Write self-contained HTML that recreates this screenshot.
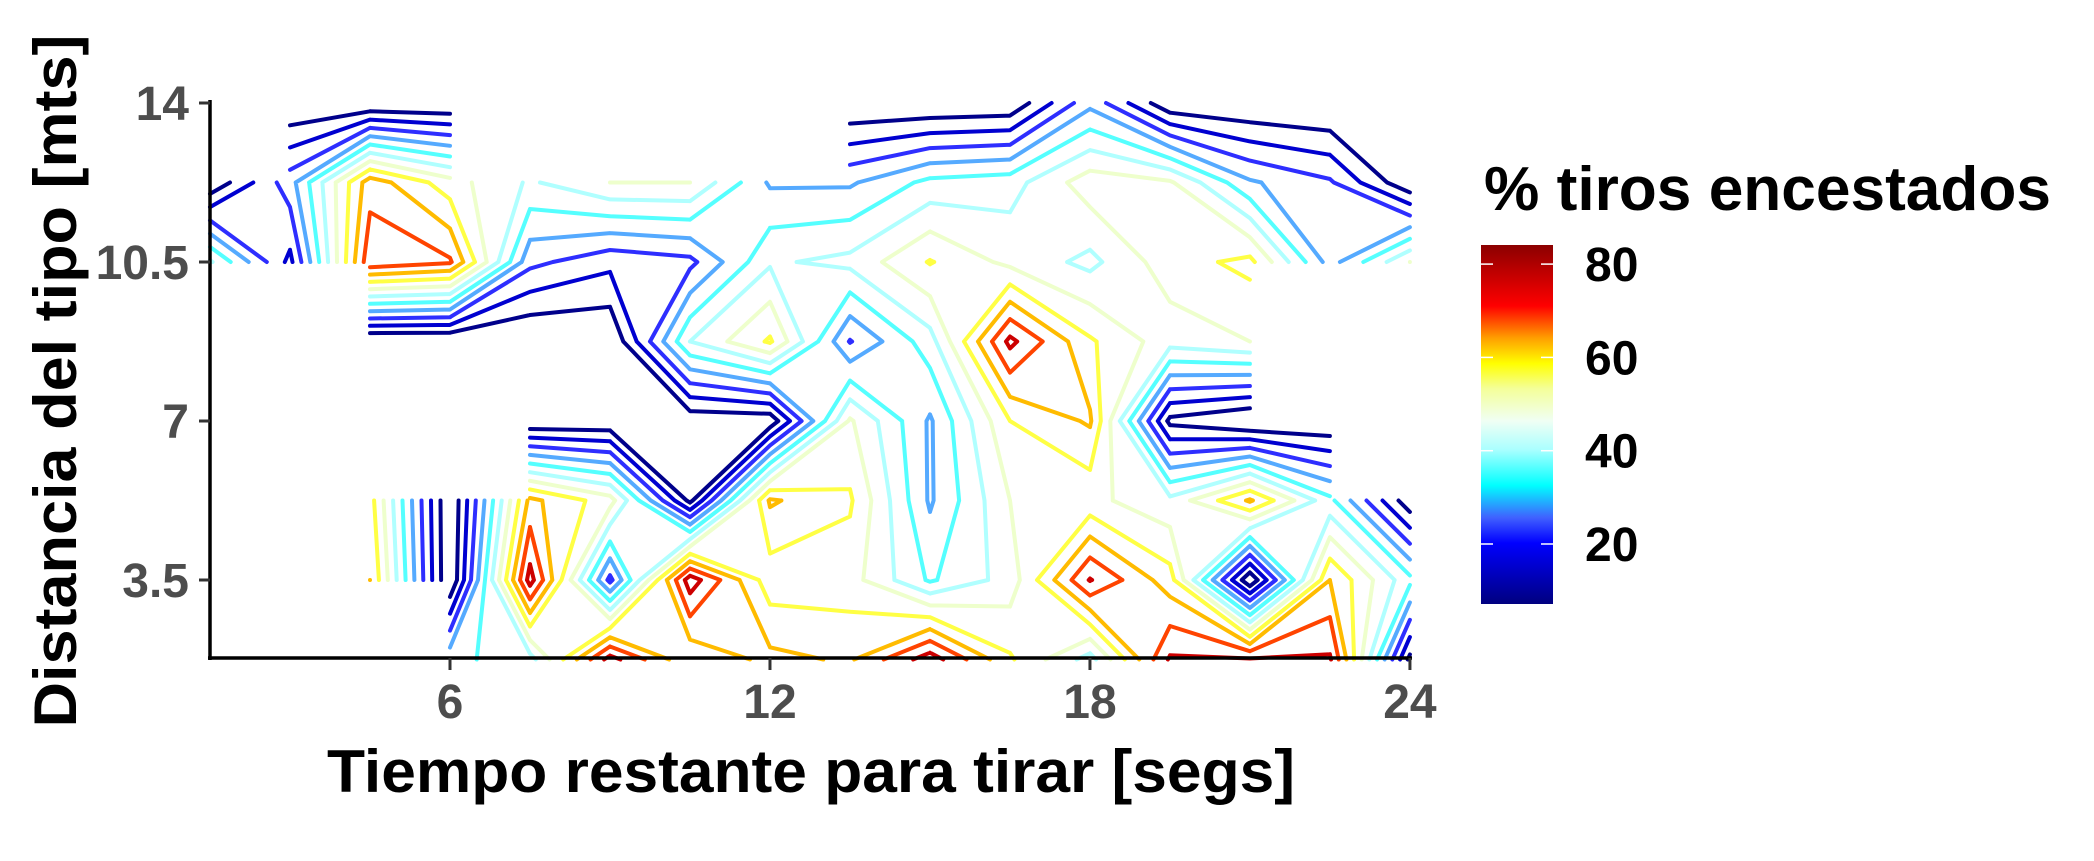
<!DOCTYPE html>
<html><head><meta charset="utf-8"><style>
html,body{margin:0;padding:0;background:#fff;}
svg{display:block;font-family:"Liberation Sans",Arial,sans-serif;font-weight:bold;}
</style></head><body>
<svg id="chart" width="2094" height="861" viewBox="0 0 2094 861" xmlns="http://www.w3.org/2000/svg">
<defs>
<linearGradient id="cbar" x1="0" y1="1" x2="0" y2="0">
<stop offset="0" stop-color="#00007F"/>
<stop offset="0.17" stop-color="#0000FF"/>
<stop offset="0.24" stop-color="#4060FF"/>
<stop offset="0.33" stop-color="#00FFFF"/>
<stop offset="0.43" stop-color="#AAFFFF"/>
<stop offset="0.51" stop-color="#F0FFF4"/>
<stop offset="0.6" stop-color="#F4FF99"/>
<stop offset="0.67" stop-color="#FFFF00"/>
<stop offset="0.74" stop-color="#FFA000"/>
<stop offset="0.83" stop-color="#FF0000"/>
<stop offset="1" stop-color="#8B0000"/>
</linearGradient>
</defs>
<g id="contours"></g>
<g>
<line x1="210" y1="100" x2="210" y2="660" stroke="#000" stroke-width="3.5"/>
</g>
<g>
<line x1="208" y1="658" x2="1412" y2="658" stroke="#000" stroke-width="3.5"/>
</g>
<g id="xticks"></g>
<g id="yticks"></g>
<text x="811" y="792" font-size="60" text-anchor="middle" textLength="968" lengthAdjust="spacingAndGlyphs" fill="#000">Tiempo restante para tirar [segs]</text>
<text x="0" y="0" font-size="60" text-anchor="middle" textLength="693" lengthAdjust="spacingAndGlyphs" fill="#000" transform="translate(76,381) rotate(-90)">Distancia del tipo [mts]</text>
<text x="1484" y="210" font-size="62" textLength="567" lengthAdjust="spacingAndGlyphs" fill="#000">% tiros encestados</text>
<rect x="1481" y="245" width="72" height="359" fill="url(#cbar)"/>
<g id="cbticks"></g>
</svg>
<script>
const xs=[1.5,3,4.5,6,7.5,9,10.5,12,13.5,15,16.5,18,19.5,21,22.5,24];
const ys=[14,12.25,10.5,8.75,7,5.25,3.5,1.75];
const N=null;
const row14   =[N,3,3,3,N,N,N,N,3,3,4,29,4,3,2,2];
const row1225 =[4,28,70,55,44,52,52,30,30,40,42,56,53,32,25,4];
const row105  =[46,15,78,74,26,19,22,44,47,59.5,50,43,56,61,28,52];
const row875  =[N,N,2,2,2,3,45,60,23.5,42,82,60,48,52,N,N];
const row7    =[N,N,N,N,3.5,4,5,5,53,30,59,67,8,2,3,N];
const row525  =[N,N,62,3,68,55,8,67,60,30,52,54,47,67,40,5];
const row35   =[N,N,66,3,83,22,84,55,55,37,48,80.5,62,4,66,40];
const row175  =[N,N,N,36,42,83,60,68,65,84,60,42,81,81,81,8];
const grid=[row14,row1225,row105,row875,row7,row525,row35,row175];
const levels=[10,17,24,31,38,45,52,59,66,73,80];
const levelColors=["#00008B","#0000D0","#2E2EFF","#55AAFF","#55FFFF","#B0FFFF","#EEFFCC","#FFFF44","#FFBB00","#FF4400","#CC0000"];
const xTicks=[6,12,18,24];
const yTicks=[3.5,7,10.5,14];
const yTickLabels=["3.5","7","10.5","14"];
const cbTicks=[20,40,60,80];

const NS="http://www.w3.org/2000/svg";
function xScale(v){return 450+(v-6)*53.33;}
function yScale(v){return 421-(v-7)*(159/3.5);}
function cScale(v){return 544-(v-20)*(93.3/20);}

const g=document.getElementById('contours');
function interp(p1,p2,v1,v2,L){const t=(L-v1)/(v2-v1);return [p1[0]+(p2[0]-p1[0])*t,p1[1]+(p2[1]-p1[1])*t];}
for(let li=0;li<levels.length;li++){
  const L=levels[li];
  let d="";
  for(let r=0;r<ys.length-1;r++){
    for(let c=0;c<xs.length-1;c++){
      const a=grid[r][c],b=grid[r][c+1],cc=grid[r+1][c+1],dd=grid[r+1][c];
      if(a===null||b===null||cc===null||dd===null)continue;
      const pa=[xScale(xs[c]),yScale(ys[r])],pb=[xScale(xs[c+1]),yScale(ys[r])];
      const pc=[xScale(xs[c+1]),yScale(ys[r+1])],pd=[xScale(xs[c]),yScale(ys[r+1])];
      const e=[null,null,null,null];
      if((a>=L)!==(b>=L))e[0]=interp(pa,pb,a,b,L);
      if((b>=L)!==(cc>=L))e[1]=interp(pb,pc,b,cc,L);
      if((cc>=L)!==(dd>=L))e[2]=interp(pc,pd,cc,dd,L);
      if((dd>=L)!==(a>=L))e[3]=interp(pd,pa,dd,a,L);
      const pts=e.filter(p=>p);
      let segs=[];
      if(pts.length===2)segs.push([pts[0],pts[1]]);
      else if(pts.length===4){
        const ctr=(a+b+cc+dd)/4;
        if((ctr>=L)===(a>=L)){segs.push([e[0],e[1]]);segs.push([e[2],e[3]]);}
        else{segs.push([e[0],e[3]]);segs.push([e[1],e[2]]);}
      }
      for(const s of segs)d+="M"+s[0][0].toFixed(1)+","+s[0][1].toFixed(1)+"L"+s[1][0].toFixed(1)+","+s[1][1].toFixed(1);
    }
  }
  const p=document.createElementNS(NS,'path');
  
  
  p.setAttribute('d',d);
  p.setAttribute('fill','none');
  p.setAttribute('stroke',levelColors[li]);
  p.setAttribute('stroke-width','4');
  p.setAttribute('stroke-linecap','round');
  p.setAttribute('stroke-linejoin','round');
  g.appendChild(p);
}
const xt=document.getElementById('xticks');
xTicks.forEach(v=>{
  const l=document.createElementNS(NS,'line');
  
  
  l.setAttribute('x1',xScale(v));l.setAttribute('x2',xScale(v));
  l.setAttribute('y1',658);l.setAttribute('y2',670);
  l.setAttribute('stroke','#333');l.setAttribute('stroke-width','3');
  xt.appendChild(l);
  const t=document.createElementNS(NS,'text');
  
  
  t.setAttribute('x',xScale(v));t.setAttribute('y',718);
  t.setAttribute('font-size','48');t.setAttribute('text-anchor','middle');t.setAttribute('fill','#4D4D4D');
  t.textContent=String(v);
  xt.appendChild(t);
});
const yt=document.getElementById('yticks');
yTicks.forEach((v,i)=>{
  const l=document.createElementNS(NS,'line');
  
  
  l.setAttribute('x1',199);l.setAttribute('x2',210);
  l.setAttribute('y1',yScale(v));l.setAttribute('y2',yScale(v));
  l.setAttribute('stroke','#333');l.setAttribute('stroke-width','3');
  yt.appendChild(l);
  const t=document.createElementNS(NS,'text');
  
  
  t.setAttribute('x',189);t.setAttribute('y',yScale(v)+17);
  t.setAttribute('font-size','48');t.setAttribute('text-anchor','end');t.setAttribute('fill','#4D4D4D');
  t.textContent=yTickLabels[i];
  yt.appendChild(t);
});
const cb=document.getElementById('cbticks');
cbTicks.forEach(v=>{
  [[1481,1493],[1541,1553]].forEach(xx=>{
    const l=document.createElementNS(NS,'line');
    
    
    l.setAttribute('x1',xx[0]);l.setAttribute('x2',xx[1]);
    l.setAttribute('y1',cScale(v));l.setAttribute('y2',cScale(v));
    l.setAttribute('stroke','#fff');l.setAttribute('stroke-width','1.5');
    cb.appendChild(l);
  });
  const t=document.createElementNS(NS,'text');
  
  
  t.setAttribute('x',1585);t.setAttribute('y',cScale(v)+17);
  t.setAttribute('font-size','48');t.setAttribute('fill','#000');
  t.textContent=String(v);
  cb.appendChild(t);
});
</script>
</body></html>
